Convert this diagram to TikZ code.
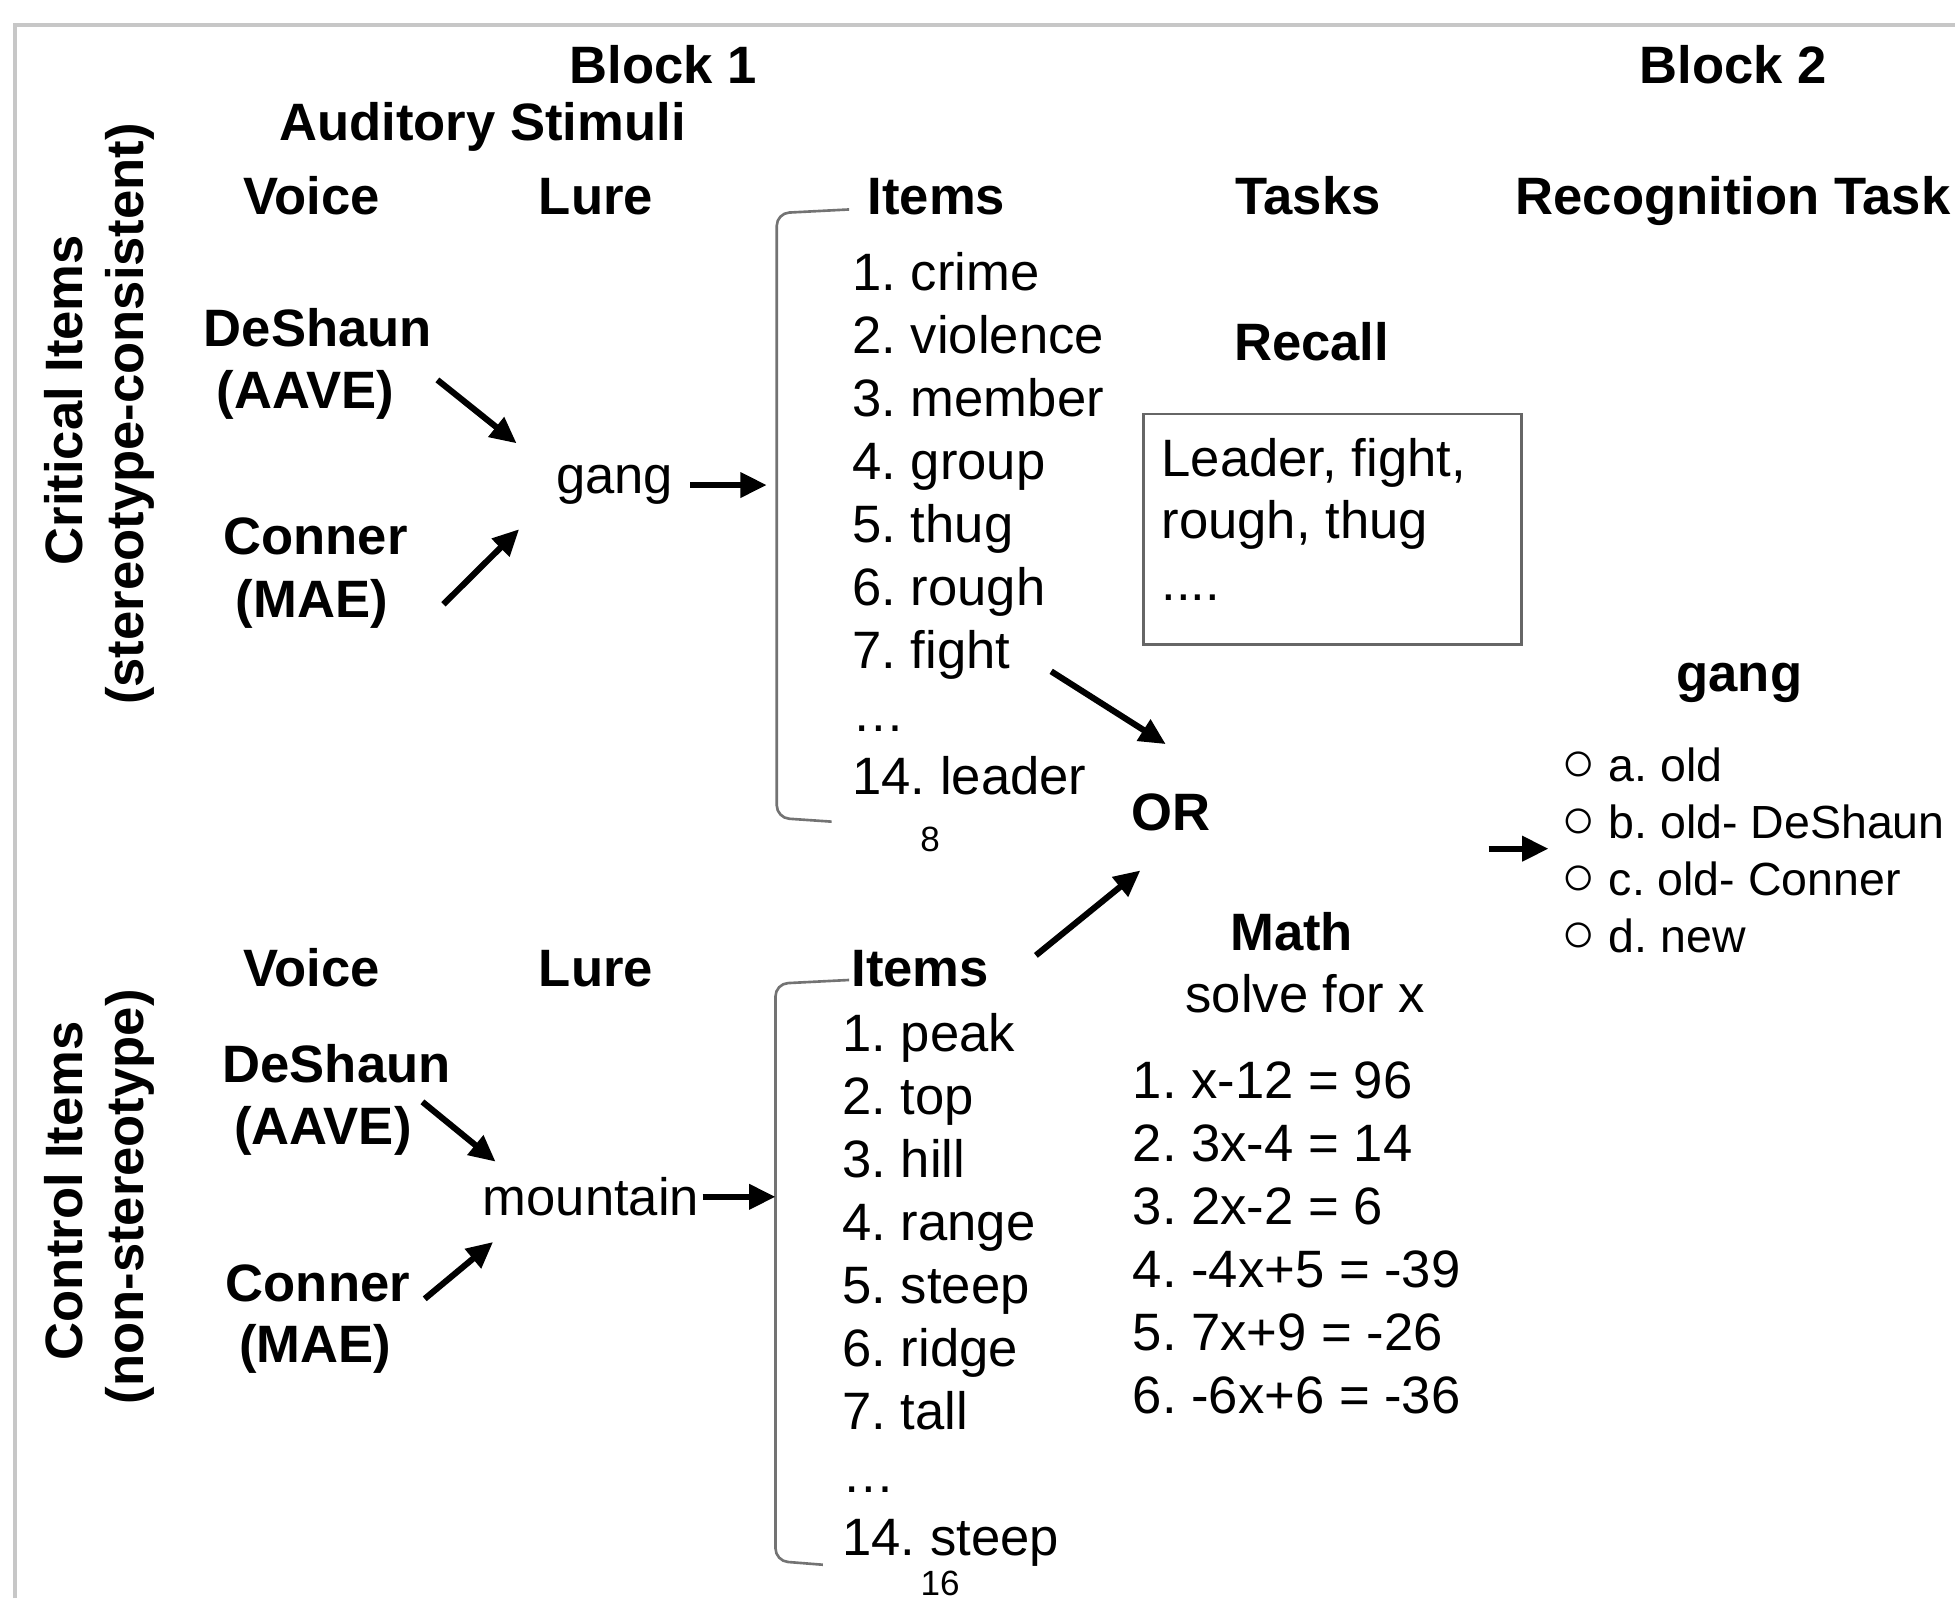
\documentclass[tikz,border=0pt]{standalone}
\usepackage{fontspec}
\setmainfont{Liberation Sans}
\usetikzlibrary{arrows.meta}
\frenchspacing

\begin{document}
\begin{tikzpicture}[x=0.01cm, y=-0.01cm, >={Triangle[length=6pt,width=5.5pt]},
  every node/.style={inner sep=0pt, font=\fontsize{12}{14}\selectfont},
  hd/.style={font=\fontsize{12}{14}\selectfont\bfseries},
  sm/.style={font=\fontsize{8}{9}\selectfont},
  opt/.style={font=\fontsize{10.6}{12}\selectfont},
  arr/.style={->, line width=1.4pt},
  brk/.style={draw=black!55, line width=0.6pt, rounded corners=0.1cm}]
\useasboundingbox (0,0) rectangle (1568,1282);
\draw[black!22, line width=0.8pt] (12,1282) -- (12,20) -- (1568,20);

% headings
\node[hd, anchor=base] (blk1) at (532,67) {Block 1};
\node[hd, anchor=base] (blk2) at (1390,67) {Block 2};
\node[hd, anchor=base] (aud) at (387,113) {Auditory Stimuli};
\node[hd, anchor=base] (voice1) at (250,172) {Voice};
\node[hd, anchor=base] (lure1) at (478,172) {Lure};
\node[hd, anchor=base] (items1) at (751,172) {Items};
\node[hd, anchor=base] (tasks) at (1049,172) {Tasks};
\node[hd, anchor=base west] (recog) at (1215,172) {Recognition Task};

% row labels
\node[hd, rotate=90, anchor=base] (crit) at (66,321) {Critical Items};
\node[hd, rotate=90, anchor=base] (critsub) at (115,332) {(stereotype-consistent)};
\node[hd, rotate=90, anchor=base] (ctrl) at (66,955) {Control Items};
\node[hd, rotate=90, anchor=base] (ctrlsub) at (115,960) {(non-stereotype)};

% critical items, block 1
\node[hd, anchor=base] (dsh1) at (255,278) {DeShaun};
\node[hd, anchor=base] (aave1) at (245,328) {(AAVE)};
\node[hd, anchor=base] (cnr1) at (253,445) {Conner};
\node[hd, anchor=base] (mae1) at (250,495) {(MAE)};
\node[anchor=base] (gang1) at (493,396) {gang};
\draw[arr] ([shift={(34,8)}]aave1.north east) -- ([shift={(-31,-17)}]gang1.north west);
\draw[arr] ([shift={(44,21)}]mae1.north east) -- ([shift={(-29,19)}]gang1.south west);

\draw[brk] (681,168) -- (623,171) -- (623,656) -- (667,659);
\coordinate (brk1) at (623,413);
\draw[arr, shorten <=0.13cm, shorten >=0.08cm] (gang1.east) -- (gang1.east -| brk1);

\foreach \w [count=\i] in {{1. crime}, {2. violence}, {3. member}, {4. group}, {5. thug}, {6. rough}, {7. fight}, {…}, {14. leader}}
  \node[anchor=base west] (crit\i) at (683,{233+50.5*(\i-1)}) {\w};
\node[sm, anchor=base] (pg1) at (746,683) {8};

% tasks
\node[hd, anchor=base] (recall) at (1052,289) {Recall};
\node[draw=black!60, line width=0.6pt, minimum width=3.03cm, minimum height=1.85cm] (recbox) at (1068.5,424.5) {};
\node[anchor=base west] (rec1) at (931,382) {Leader, fight,};
\node[anchor=base west] (rec2) at (931,432) {rough, thug};
\node[anchor=base west] (rec3) at (931,482) {.\kern0pt.\kern0pt.\kern0pt.};

\node[hd, anchor=base] (orn) at (939,666) {OR};
\draw[arr] ([shift={(32,-7)}]crit7.south east) -- ([shift={(-4,-39)}]orn.north);

\node[hd, anchor=base] (math) at (1036,762) {Math};
\node[anchor=base] (solve) at (1047,812) {solve for x};
\foreach \w [count=\i] in {{1. x-12 = 96}, {2. 3x-4 = 14}, {3. 2x-2 = 6}, {4. -4x+5 = -39}, {5. 7x+9 = -26}, {6. -6x+6 = -36}}
  \node[anchor=base west] (eq\i) at (908,{881+50.6*(\i-1)}) {\w};

% block 2
\node[hd, anchor=base] (gang2) at (1395,555) {gang};
\foreach \w [count=\i] in {{a. old}, {b. old- DeShaun}, {c. old- Conner}, {d. new}}
  \node[opt, anchor=base west] (opt\i) at (1252,{627+45.7*(\i-1)}) {{\fontsize{13}{13}\selectfont ○}\hspace{0.1cm}\w};
\draw[arr] ([shift={(-58,8)}]opt2.base west) -- ([shift={(-10,8)}]opt2.base west);

% control items, block 1
\node[hd, anchor=base] (voice2) at (250,791) {Voice};
\node[hd, anchor=base] (lure2) at (478,791) {Lure};
\node[hd, anchor=base] (items2) at (738,791) {Items};
\node[hd, anchor=base] (dsh2) at (270,868) {DeShaun};
\node[hd, anchor=base] (aave2) at (259,918) {(AAVE)};
\node[hd, anchor=base] (cnr2) at (255,1044) {Conner};
\node[hd, anchor=base] (mae2) at (253,1093) {(MAE)};
\node[anchor=base] (mtn) at (474,975) {mountain};
\draw[arr] ([shift={(8,-3)}]aave2.north east) -- ([shift={(11,-12)}]mtn.north west);
\draw[arr] ([shift={(26,-20)}]mae2.north east) -- ([shift={(9,20)}]mtn.south west);

\draw[brk] (681,786) -- (622,789) -- (622,1252) -- (660,1255);
\coordinate (brk2) at (622,1020);
\draw[arr, shorten <=0.02cm] (mtn.east) -- (mtn.east -| brk2);

\foreach \w [count=\i] in {{1. peak}, {2. top}, {3. hill}, {4. range}, {5. steep}, {6. ridge}, {7. tall}, {…}, {14. steep}}
  \node[anchor=base west] (ctl\i) at (675,{843+50.6*(\i-1)}) {\w};
\node[sm, anchor=base] (pg2) at (754,1280) {16};

\draw[arr] ([shift={(37,5)}]items2.north east) -- ([shift={(8,31)}]orn.south west);
\end{tikzpicture}
\end{document}
